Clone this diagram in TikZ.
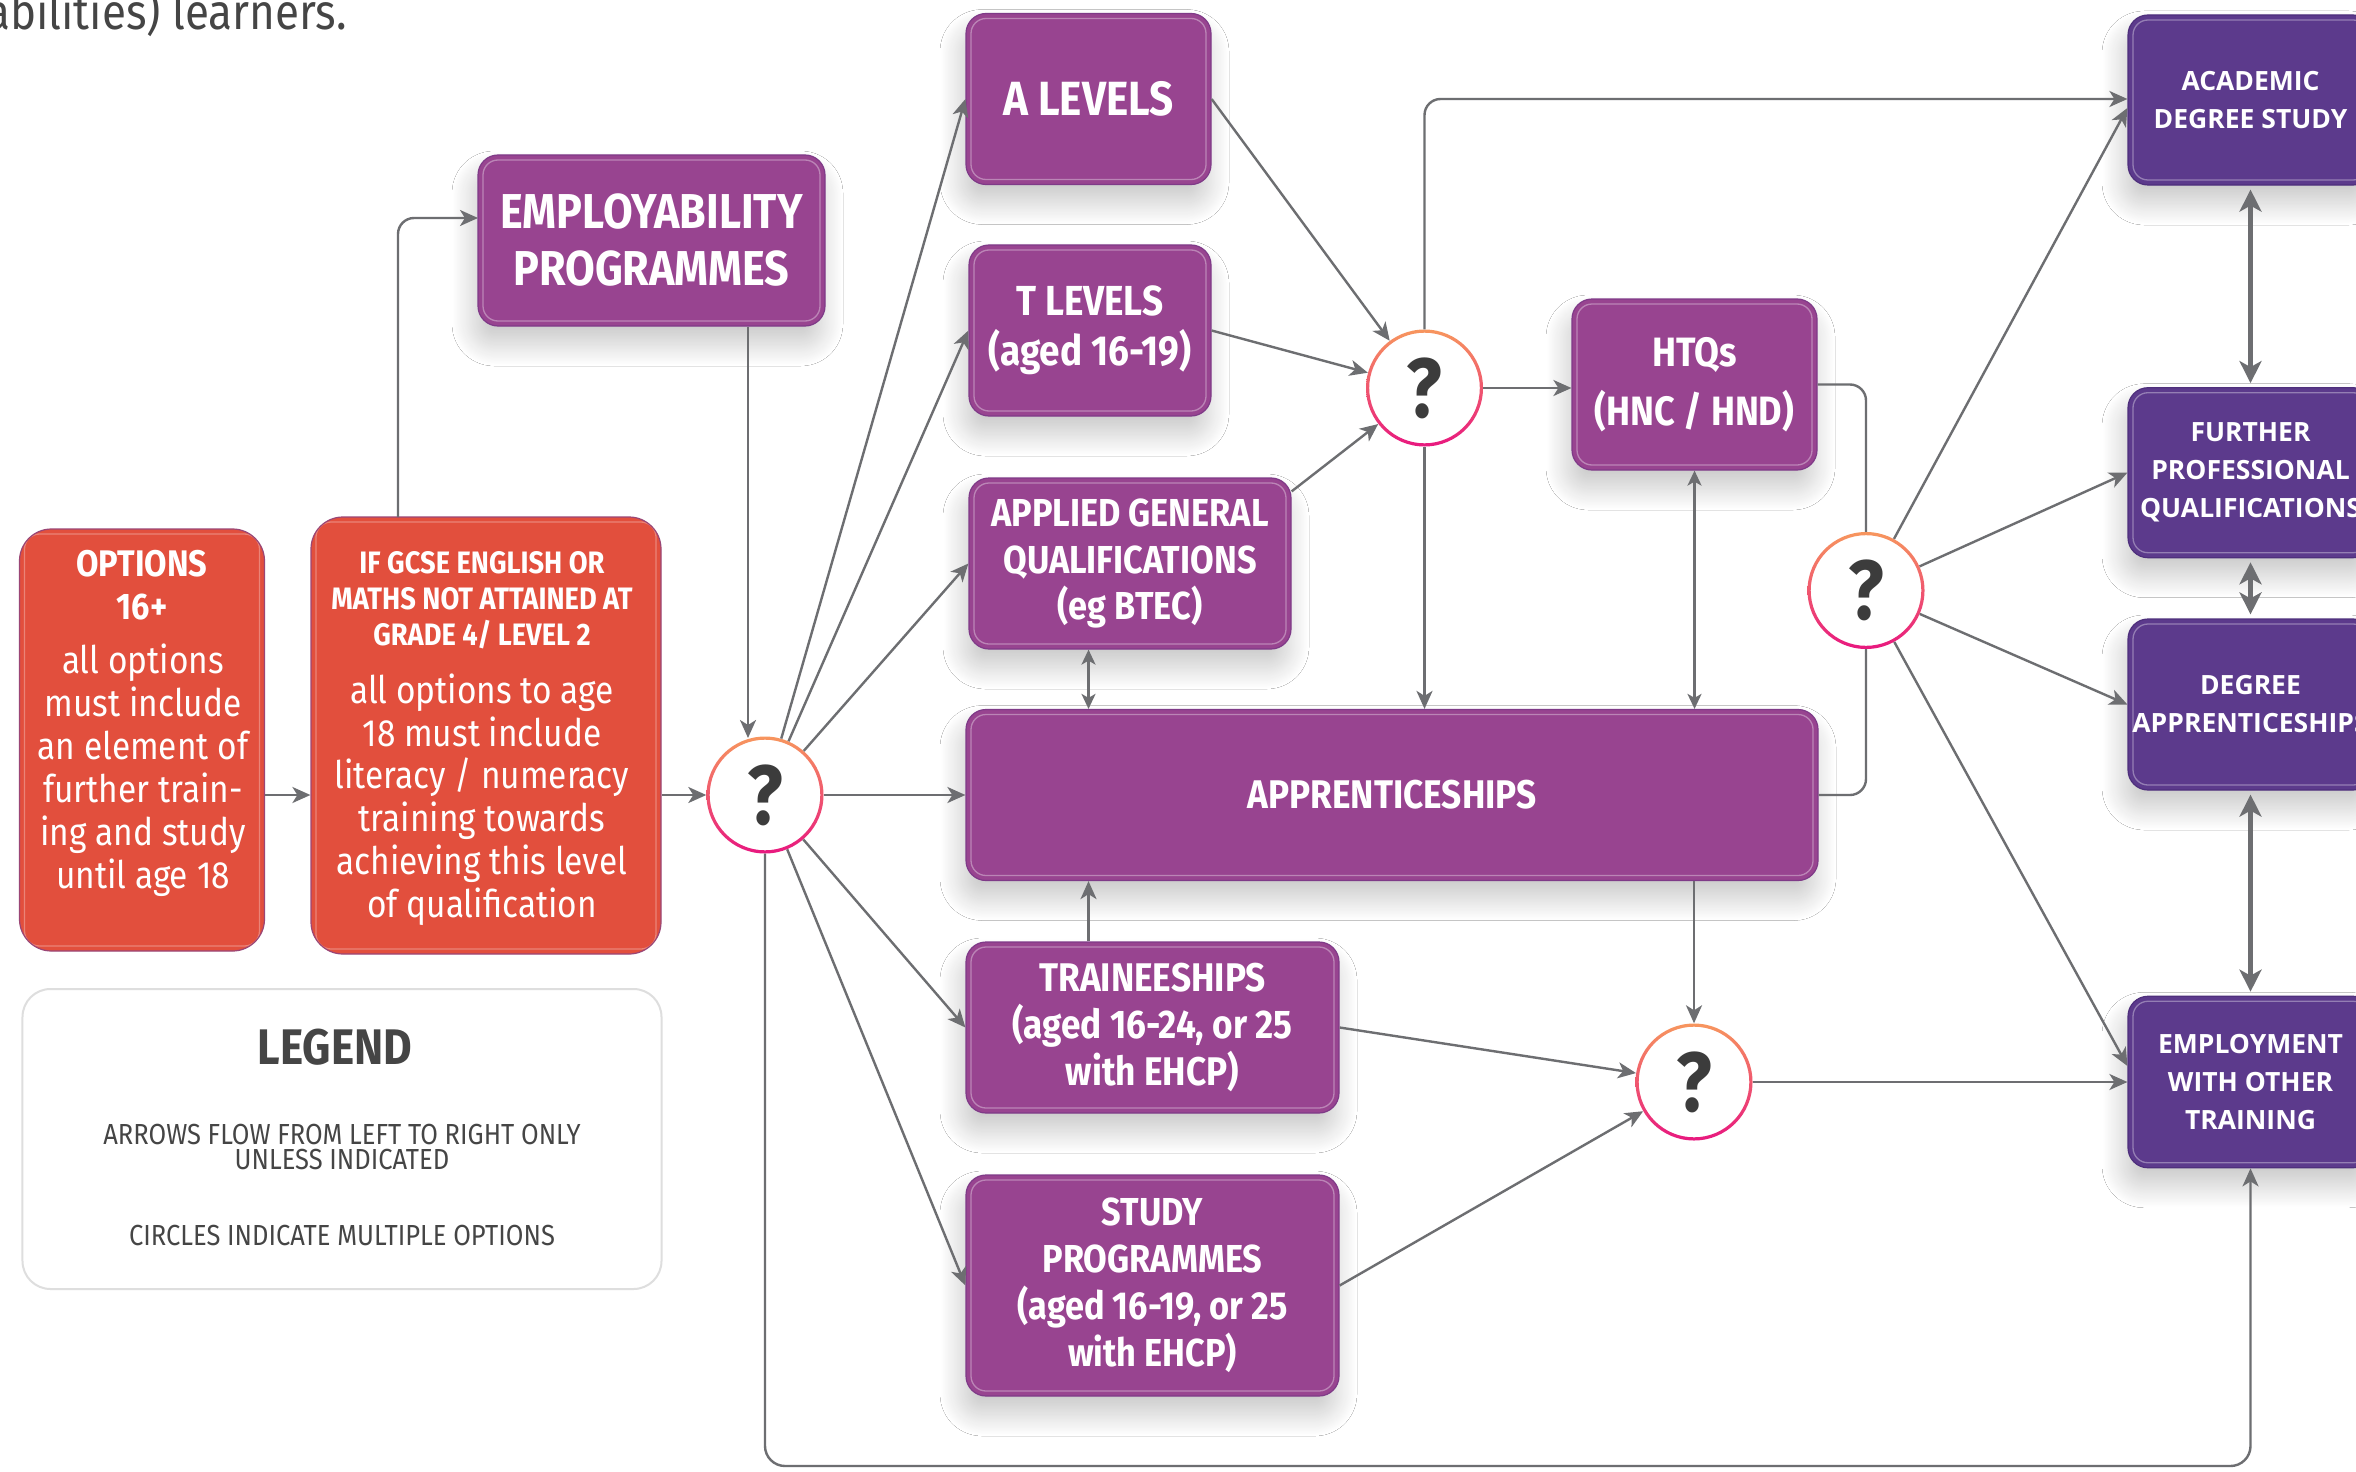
\documentclass[tikz,border=0pt]{standalone}
\usepackage{fontspec}
\usetikzlibrary{arrows.meta,calc,shadows.blur}
\newfontfamily\fira[FakeStretch=0.88]{Fira Sans}
\newfontfamily\opensans{Open Sans}
\newcommand\myfs[2]{\fontsize{#1bp}{#2bp}\selectfont}
\definecolor{pur}{HTML}{984490}
\definecolor{purb}{HTML}{7F3A88}
\definecolor{rpur}{HTML}{5C3A8C}
\definecolor{rpurb}{HTML}{4E2F7C}
\definecolor{rred}{HTML}{E24F3D}
\definecolor{rredb}{HTML}{9A4676}
\definecolor{agray}{HTML}{6D6E71}
\definecolor{qgray}{HTML}{3C3C3C}
\definecolor{qor}{HTML}{F7965E}
\definecolor{qpk}{HTML}{E8187F}
\definecolor{lgray}{HTML}{DEDEDE}
\definecolor{tgray}{HTML}{454545}
\tikzset{
  inl/.style={path picture={\draw[white, draw opacity=#1, line width=1.3bp, rounded corners=15bp]
     ([shift={(5bp,5bp)}]path picture bounding box.south west) rectangle
     ([shift={(-5bp,-5bp)}]path picture bounding box.north east);}},
  pbox/.style={fill=pur, draw=purb, line width=1.2bp, rounded corners=20bp, inner sep=0pt,
     text=white, align=center, inl=0.35,
     blur shadow={shadow xshift=-4bp, shadow yshift=-18bp, shadow blur radius=22bp, shadow blur steps=30, shadow opacity=22}},
  dbox/.style={pbox, fill=rpur, draw=rpurb, font=\opensans\bfseries\myfs{26.5}{38}},
  rbox/.style={fill=rred, draw=rredb, line width=1.2bp, rounded corners=32bp, inner sep=0pt, inl=0.3},
  rtxt/.style={text=white, align=center, inner sep=0pt},
  lbox/.style={fill=white, draw=lgray, line width=2bp, rounded corners=28bp},
  qc/.style={circle, minimum size=117bp, inner sep=0pt, fill=white, text=qgray,
     font=\fira\bfseries\myfs{84}{84},
     path picture={\shade[top color=qor, bottom color=qpk, even odd rule]
       (path picture bounding box.center) circle[radius=58.5bp] circle[radius=55.3bp];}},
  ln/.style={draw=agray, line width=2.4bp},
  arr/.style={ln, -{Stealth[length=18bp,width=16bp,inset=5bp]}},
  darr/.style={ln, {Stealth[length=15bp,width=14bp,inset=4bp]}-{Stealth[length=15bp,width=14bp,inset=4bp]}},
  tarr/.style={draw=agray, line width=5bp, {Stealth[length=22bp,width=22bp,inset=6bp]}-{Stealth[length=22bp,width=22bp,inset=6bp]}, shorten <=4bp, shorten >=4bp},
}
\begin{document}
\begin{tikzpicture}[x=1bp,y=-1bp]
\fill[white] (0,0) rectangle (2356,1472);
\useasboundingbox (0,0) rectangle (2356,1472);

% top text
\node[anchor=base west, font=\fira\myfs{50}{50}, text=tgray, inner sep=0pt] (toptxt) at (-14,30) {abilities) learners.};

% red boxes
\node[rbox, minimum width=245bp, minimum height=422bp] (opt) at (142,740) {};
\node[rtxt, font=\fira\bfseries\myfs{37}{43.5}] (optH) at (142,585) {OPTIONS\\16+};
\node[rtxt, font=\fira\myfs{38}{43}] (optB) at (143,770) {all options\\must include\\an element of\\further train-\\ing and study\\until age 18};
\node[rbox, minimum width=350bp, minimum height=437bp] (gcse) at (486,735.5) {};
\node[rtxt, font=\fira\bfseries\myfs{31}{36}] (gcseH) at (482,600.5) {IF GCSE ENGLISH OR\\MATHS NOT ATTAINED AT\\GRADE 4/ LEVEL 2};
\node[rtxt, font=\fira\myfs{38}{42.7}] (gcseB) at (482,799.5) {all options to age\\18 must include\\literacy / numeracy\\training towards\\achieving this level\\of qualification};

% legend
\node[lbox, minimum width=639bp, minimum height=300bp] (leg) at (342,1139) {};
\node[font=\fira\bfseries\myfs{50}{50}, text=tgray] (legT) at (335,1047) {LEGEND};
\node[font=\fira\myfs{29}{25}, text=tgray, align=center] (leg1) at (342,1147) {ARROWS FLOW FROM LEFT TO RIGHT ONLY\\UNLESS INDICATED};
\node[font=\fira\myfs{29}{25}, text=tgray] (leg2) at (342,1235) {CIRCLES INDICATE MULTIPLE OPTIONS};

% purple boxes
\node[pbox, minimum width=347bp, minimum height=171bp, font=\fira\bfseries\myfs{49}{57}] (emp) at (651.5,240.5) {EMPLOYABILITY\\PROGRAMMES};
\node[pbox, minimum width=245bp, minimum height=171bp, font=\fira\bfseries\myfs{48}{57}] (alev) at (1088.5,99) {A LEVELS};
\node[pbox, minimum width=242bp, minimum height=171bp, font=\fira\bfseries\myfs{42}{50}] (tlev) at (1090,330.5) {T LEVELS\\(aged 16-19)};
\node[pbox, minimum width=322bp, minimum height=171bp, font=\fira\bfseries\myfs{39}{46.5}] (appl) at (1130,563.5) {APPLIED GENERAL\\QUALIFICATIONS\\(eg BTEC)};
\node[pbox, minimum width=852bp, minimum height=171bp, font=\fira\bfseries\myfs{40}{47}] (app) at (1392,795) {APPRENTICESHIPS};
\node[pbox, minimum width=373bp, minimum height=171bp, font=\fira\bfseries\myfs{40}{47}] (trai) at (1152.5,1027.5) {TRAINEESHIPS\\(aged 16-24, or 25\\with EHCP)};
\node[pbox, minimum width=373bp, minimum height=221bp, font=\fira\bfseries\myfs{39}{47}] (study) at (1152.5,1285.5) {STUDY\\PROGRAMMES\\(aged 16-19, or 25\\with EHCP)};
\node[pbox, minimum width=245bp, minimum height=171bp, font=\fira\bfseries\myfs{41}{59}] (htq) at (1694.5,384.5) {HTQs\\(HNC / HND)};

% right column
\node[dbox, minimum width=245bp, minimum height=170bp] (acad) at (2250.5,100) {ACADEMIC\\DEGREE STUDY};
\node[dbox, minimum width=245bp, minimum height=170bp] (furt) at (2250.5,472.7) {FURTHER\\PROFESSIONAL\\QUALIFICATIONS};
\node[dbox, minimum width=245bp, minimum height=171bp] (degr) at (2250.5,704.5) {DEGREE\\APPRENTICESHIPS};
\node[dbox, minimum width=245bp, minimum height=171.5bp] (empl) at (2250.5,1082) {EMPLOYMENT\\WITH OTHER\\TRAINING};

% circles
\node[qc] (c1) at (765,795) {?};
\node[qc] (c2) at (1424.5,388) {?};
\node[qc] (c3) at (1866,590.5) {?};
\node[qc] (c4) at (1694,1082) {?};

% helper coordinates
\coordinate (eL) at (478,218);
\coordinate (gU) at (398,517);
\coordinate (c1t) at (748,738);
\coordinate (bl) at (765,1466);

% connectors
\draw[arr] (opt.east |- c1) -- (gcse.west |- c1);
\draw[arr] (gcse.east |- c1) -- (c1);
\draw[arr, rounded corners=16bp] (gU) |- (eL);
\draw[arr] (emp.south -| c1t) -- (c1t);
\foreach \t in {alev,tlev,appl,app,trai,study} \draw[arr] (c1) -- (\t.west);
\draw[arr, rounded corners=20bp] (c1) -- (bl) -| (empl.south);

\draw[arr] (alev.east) -- (c2);
\draw[arr] (tlev.east) -- (c2);
\draw[arr] ($(appl.north east)+(0,14)$) -- (c2);
\draw[arr] (c2) -- (c2 -| htq.west);
\draw[arr, rounded corners=16bp] (c2) |- ($(acad.west)+(0,-1)$);
\draw[arr] (c2) -- (c2 |- app.north);
\draw[darr] (htq.south) -- (htq.south |- app.north);
\draw[ln, rounded corners=16bp] (htq.east) -| (c3);
\draw[ln, rounded corners=16bp] (app.east) -| (c3);

\draw[arr] (c3) -- ($(acad.west)+(0,8)$);
\draw[arr] (c3) -- (furt.west);
\draw[arr] (c3) -- (degr.west);
\draw[arr] (c3) -- ($(empl.west)+(0,-16)$);

\draw[arr] (c4 |- app.south) -- (c4);
\draw[arr] (trai.east) -- (c4);
\draw[arr] (study.east) -- (c4);
\draw[arr] (c4) -- (empl.west);

\draw[darr] (appl.south -| alev.south) -- (app.north -| alev.south);
\draw[arr] (trai.north -| alev.south) -- (app.south -| alev.south);

\draw[tarr] (acad.south) -- (furt.north);
\draw[tarr] (furt.south) -- (degr.north);
\draw[tarr] (degr.south) -- (empl.north);
\end{tikzpicture}
\end{document}
